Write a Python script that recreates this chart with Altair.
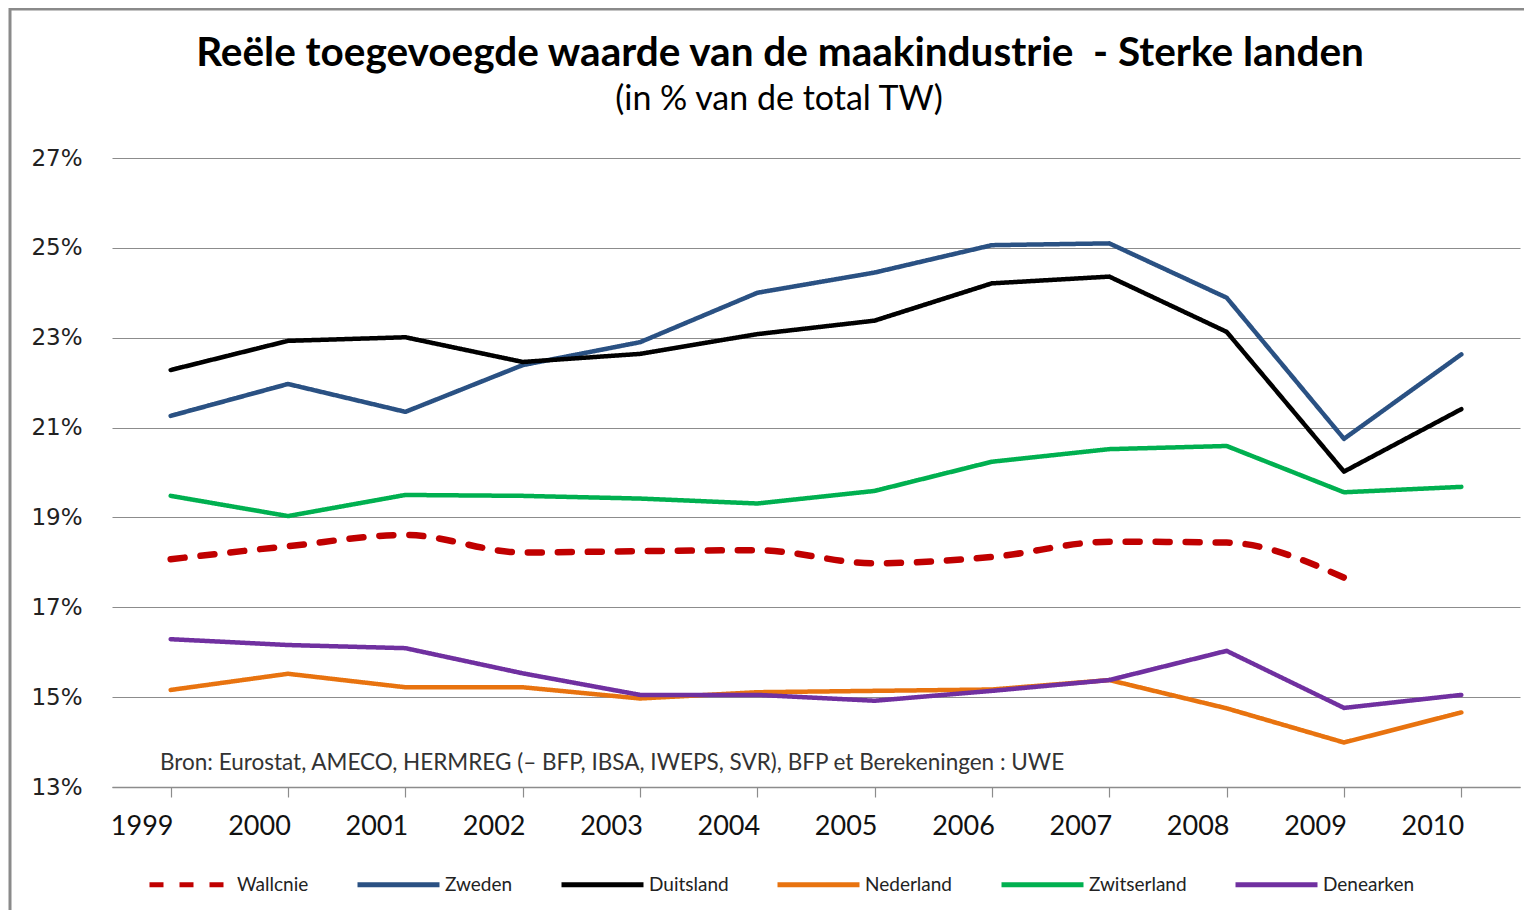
import altair as alt
import pandas as pd

years = ["1999", "2000", "2001", "2002", "2003", "2004", "2005", "2006", "2007", "2008", "2009", "2010"]
wallonie = [18.07, 18.36, 18.61, 18.22, 18.25, 18.27, 17.98, 18.12, 18.46, 18.44, 17.66, None]
zweden = [21.26, 21.97, 21.35, 22.39, 22.90, 24.00, 24.45, 25.06, 25.10, 23.89, 20.75, 22.63]
duitsland = [22.28, 22.93, 23.01, 22.46, 22.64, 23.08, 23.38, 24.21, 24.36, 23.13, 20.02, 21.41]
nederland = [15.16, 15.52, 15.22, 15.22, 14.97, 15.11, 15.14, 15.17, 15.38, 14.75, 13.99, 14.66]
zwitserland = [19.48, 19.03, 19.50, 19.48, 19.42, 19.31, 19.59, 20.24, 20.52, 20.59, 19.56, 19.68]
denearken = [16.29, 16.16, 16.09, 15.53, 15.05, 15.05, 14.92, 15.14, 15.38, 16.03, 14.76, 15.05]

series_names = ["Wallcnie", "Zweden", "Duitsland", "Nederland", "Zwitserland", "Denearken"]
series_values = [wallonie, zweden, duitsland, nederland, zwitserland, denearken]
series_colors = ["#C00000", "#2A5183", "#000000", "#E8730F", "#00B050", "#7030A0"]
series_dash = [[14, 16], [1, 0], [1, 0], [1, 0], [1, 0], [1, 0]]

title_text = "Reële toegevoegde waarde van de maakindustrie \u00a0- Sterke landen"
subtitle_text = "(in % van de total TW)"
source_text = "Bron: Eurostat, AMECO, HERMREG (– BFP, IBSA, IWEPS, SVR), BFP et Berekeningen : UWE"
y_ticks = [13, 15, 17, 19, 21, 23, 25, 27]

rows = []
for name, vals in zip(series_names, series_values):
    for yr, v in zip(years, vals):
        if v is not None:
            rows.append({"Jaar": yr, "Waarde": v, "Reeks": name})
df = pd.DataFrame(rows)

color_scale = alt.Scale(domain=series_names, range=series_colors)
dash_scale = alt.Scale(domain=series_names, range=series_dash)

x_enc = alt.X(
    "Jaar:O",
    sort=years,
    scale=alt.Scale(type="point", padding=0.5),
    axis=alt.Axis(
        title=None,
        labelAngle=0,
        labelFont="Lato",
        labelFontSize=27,
        labelColor="#111111",
        labelOffset=-29,
        labelPadding=16,
        domainColor="#8c8c8c",
        domainWidth=1.5,
        tickColor="#8c8c8c",
        tickSize=10,
        tickWidth=1.2,
        grid=False,
    ),
)
y_enc = alt.Y(
    "Waarde:Q",
    scale=alt.Scale(domain=[13, 27], nice=False, zero=False),
    axis=alt.Axis(
        title=None,
        values=y_ticks,
        labelExpr="datum.value + '%'",
        labelFont="DejaVu Sans",
        labelFontSize=23,
        labelColor="#222222",
        labelPadding=30,
        ticks=False,
        domain=False,
        grid=True,
        gridColor="#8c8c8c",
        gridWidth=1.2,
    ),
)

legend = alt.Legend(
    title=None,
    orient="none",
    legendX=35,
    legendY=683,
    direction="horizontal",
    columns=6,
    symbolType="stroke",
    symbolSize=6724,
    symbolStrokeWidth=5,
    labelFont="Lato",
    labelFontSize=19,
    labelColor="#222222",
    labelOffset=3,
    columnPadding=38,
)

color_enc = alt.Color("Reeks:N", scale=color_scale, sort=series_names, legend=legend)
dash_enc = alt.StrokeDash("Reeks:N", scale=dash_scale, sort=series_names, legend=legend)

base = alt.Chart(df)

wal_layer = base.transform_filter(alt.datum.Reeks == "Wallcnie").mark_line(
    strokeWidth=6.5, strokeCap="round", interpolate="monotone"
).encode(x=x_enc, y=y_enc, color=color_enc, strokeDash=dash_enc)

layers = [wal_layer]
for name in series_names[1:]:
    layers.append(
        base.transform_filter(alt.datum.Reeks == name).mark_line(
            strokeWidth=4.5, strokeCap="round", strokeJoin="round"
        ).encode(x=x_enc, y=y_enc, color=color_enc, strokeDash=dash_enc)
    )

src = alt.Chart(pd.DataFrame({"t": [source_text]})).mark_text(
    align="left", baseline="middle", font="Lato", fontSize=22.5, color="#333333"
).encode(x=alt.value(48), y=alt.value(605), text="t:N")

title_mark = alt.Chart(pd.DataFrame({"t": [title_text]})).mark_text(
    align="center", baseline="middle", font="Lato", fontSize=40.5, fontWeight="bold", color="#000000"
).encode(x=alt.value(668), y=alt.value(-104), text="t:N")

subtitle_mark = alt.Chart(pd.DataFrame({"t": [subtitle_text]})).mark_text(
    align="center", baseline="middle", font="Lato", fontSize=34, color="#000000"
).encode(x=alt.value(667), y=alt.value(-58), text="t:N")

frame = alt.Chart(pd.DataFrame({"f": [1]})).mark_rect(
    fillOpacity=0, stroke="#8a8a8a", strokeWidth=3
).encode(x=alt.value(-102), x2=alt.value(1440), y=alt.value(-149), y2=alt.value(800))

chart = alt.layer(frame, *layers, src, title_mark, subtitle_mark).properties(
    width=1408,
    height=629,
    padding={"left": 104, "top": 150, "right": 4, "bottom": 123},
    autosize=alt.AutoSizeParams(type="none"),
).configure_view(stroke=None).resolve_scale(color="shared", strokeDash="shared")

chart.save("out.html", embed_options={"renderer": "svg", "actions": False})
